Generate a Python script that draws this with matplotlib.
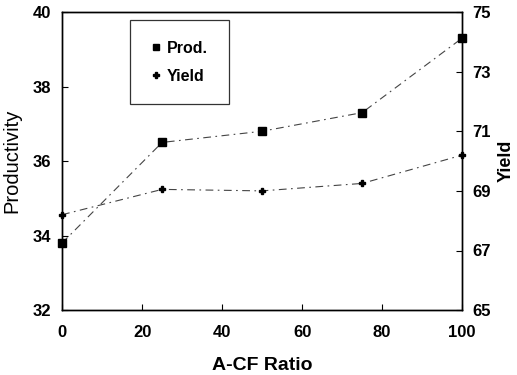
import matplotlib
matplotlib.use("Agg")
import matplotlib.pyplot as plt
from matplotlib.lines import Line2D

ratio = [0, 25, 50, 75, 100]
productivity = [33.8, 36.5, 36.8, 37.3, 39.3]
yield_vals = [68.2, 69.05, 69.0, 69.25, 70.2]
left_ticks = [32, 34, 36, 38, 40]
right_ticks = [65, 67, 69, 71, 73, 75]
x_ticks = [0, 20, 40, 60, 80, 100]

plt.rcParams['font.family'] = ['Liberation Sans', 'DejaVu Sans']
plt.rcParams['font.weight'] = 'bold'

fig = plt.figure(figsize=(5.17, 3.75), dpi=100)
ax = fig.add_axes([0.12, 0.173, 0.774, 0.795])
ax2 = ax.twinx()

ls = (0, (7, 4, 1.5, 4))
ax.plot(ratio, productivity, linestyle=ls, color='#444444', lw=0.8,
        marker='s', markersize=6, markerfacecolor='black', markeredgecolor='black', clip_on=False, zorder=5)
ax2.plot(ratio, yield_vals, linestyle=ls, color='#444444', lw=0.8,
         marker='P', markersize=5, markerfacecolor='black', markeredgecolor='black', clip_on=False, zorder=5)

ax.set_xlim(0, 100)
ax.set_ylim(32, 40)
ax2.set_ylim(65, 75)
ax.set_xticks(x_ticks)
ax.set_yticks(left_ticks)
ax2.set_yticks(right_ticks)

for a in (ax, ax2):
    a.tick_params(direction='in', length=4, width=0.8, labelsize=12)
    for s in a.spines.values():
        s.set_linewidth(1.0)
ax.tick_params(axis='x', pad=11)
ax.tick_params(axis='y', pad=8)
ax2.tick_params(axis='y', pad=7)

ax.set_xlabel('A-CF Ratio', fontsize=14, fontweight='bold', labelpad=12)
ax.set_ylabel('Productivity', fontsize=14.5, fontweight='normal', labelpad=8)
ax2.set_ylabel('Yield', fontsize=13, fontweight='bold', labelpad=5)

handles = [Line2D([], [], linestyle='none', marker='s', markersize=5, color='black'),
           Line2D([], [], linestyle='none', marker='P', markersize=4.5, color='black')]
leg = ax.legend(handles, ['Prod.', 'Yield'], loc='upper left', bbox_to_anchor=(0.17, 0.973),
                borderaxespad=0, frameon=True, fancybox=False, edgecolor='black', handlelength=0.6,
                handletextpad=0.4, borderpad=1.3, labelspacing=0.8, prop={'size': 11.5, 'weight': 'bold'})
leg.get_frame().set_linewidth(0.9)

fig.savefig('out.png', dpi=100)
